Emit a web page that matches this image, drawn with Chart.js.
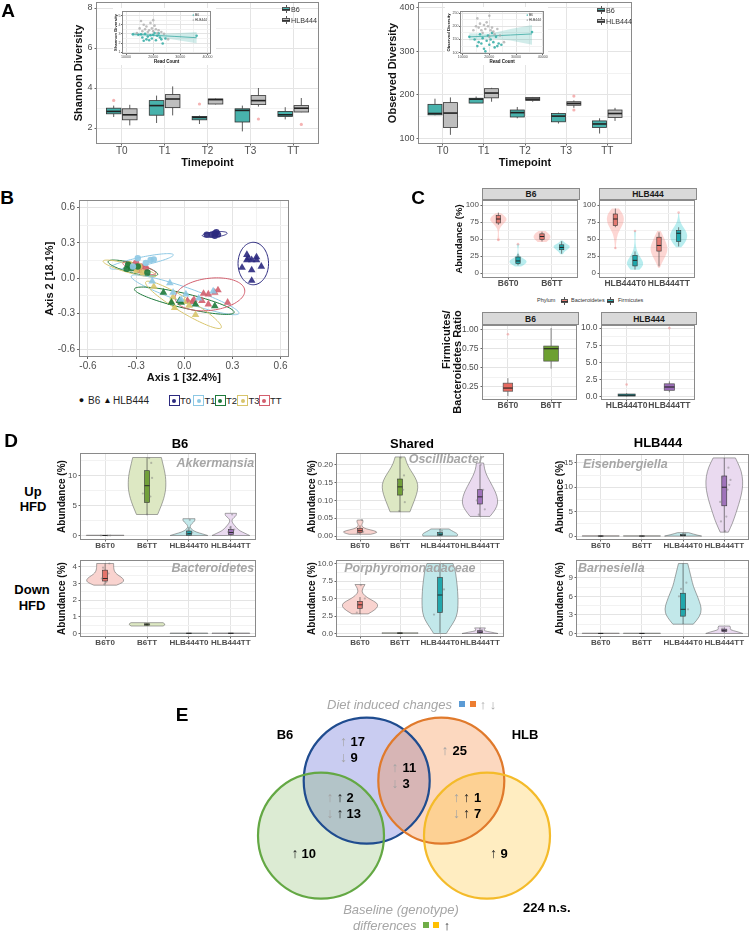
<!DOCTYPE html>
<html>
<head>
<meta charset="utf-8">
<title>Microbiome figure</title>
<script src="https://cdn.jsdelivr.net/npm/chart.js@4.4.1/dist/chart.umd.min.js"></script>
<style>
  html,body{margin:0;padding:0;background:#fff}
  body{position:relative;width:753px;height:933px;overflow:hidden;font-family:"Liberation Sans",Arial,Helvetica,sans-serif}
  canvas{position:absolute}
  .t{position:absolute;white-space:nowrap;line-height:1}
  .box{position:absolute;box-sizing:border-box}
</style>
</head>
<body>
<script>
/* ---------- DATA : panel A (alpha diversity) ---------- */
const timepoints = ['T0','T1','T2','T3','TT'];
// five numbers per box: [lower whisker, Q1, median, Q3, upper whisker]
const shannonB6  = [[2.55,2.71,2.83,2.99,3.12],[2.25,2.64,3.12,3.37,3.62],[2.20,2.41,2.53,2.58,2.62],[1.83,2.30,2.88,2.96,3.12],[2.43,2.58,2.66,2.83,3.04]];
const shannonHLB = [[2.13,2.41,2.66,2.96,3.16],[2.63,3.02,3.45,3.67,4.08],[3.18,3.20,3.42,3.45,3.47],[3.07,3.17,3.37,3.62,4.00],[2.79,2.80,2.99,3.12,3.50]];
const shannonOutB6  = [[1,3.38],[3,3.20]];
const shannonOutHLB = [[4,2.45],[5,2.18]];
const observedB6  = [[153,154,157,178,191],[181,181,190,192,196],[146,149,159,165,172],[134,138,151,157,159],[111,125,133,140,146]];
const observedHLB = [[108,125,158,182,194],[184,193,204,214,216],[184,187,190,194,195],[170,176,180,184,187],[140,148,157,165,170]];
const observedOutHLB = [[4,197],[4,165]];

// insets: diversity vs read count
const readB6  = [12500,14500,15500,16000,16500,17000,17500,18000,18500,19000,19500,20000,20500,21000,21500,22000,22500,23000,23500,24500,36000];
const shanB6  = [2.95,2.90,2.95,2.60,2.25,3.00,2.40,2.70,2.30,2.85,2.50,2.90,3.10,2.30,2.80,3.05,2.60,2.40,1.95,2.50,2.80];
const obsB6   = [160,150,125,140,170,135,155,115,105,145,165,130,150,175,140,120,160,125,135,130,178];
const readHLB = [14000,15000,15500,16000,16500,17000,17500,18000,18500,19000,19500,20000,20000,20500,21000,21500,22000,23000,24000,25500];
const shanHLB = [3.10,3.60,4.40,3.30,4.00,3.50,3.80,3.20,3.40,4.20,3.60,3.30,4.50,3.90,3.50,3.10,3.40,3.20,3.00,2.40];
const obsHLB  = [185,200,230,195,210,185,175,205,190,215,200,240,160,185,195,180,170,190,165,140];
const fitRead = [12500,20000,28000,36000];
const shanFit = [2.97,2.85,2.72,2.58], shanLo = [2.75,2.72,2.35,1.98], shanHi = [3.18,2.98,3.08,3.20];
const obsFit  = [160,163,167,171],     obsLo  = [146,154,146,130],     obsHi  = [174,172,190,205];

/* ---------- DATA : panel B (PCoA) ---------- */
const pcoaT0B6 = [[0.14,0.37],[0.17,0.37],[0.19,0.38],[0.20,0.39],[0.21,0.37],[0.19,0.36]];
const pcoaT1B6 = [[-0.29,0.17],[-0.21,0.155],[-0.19,0.16],[-0.24,0.13],[-0.32,0.10]];
const pcoaT2B6 = [[-0.35,0.115],[-0.33,0.085],[-0.36,0.08],[-0.29,0.10],[-0.23,0.05]];
const pcoaT3B6 = [[-0.33,0.10],[-0.30,0.07],[-0.26,0.05],[-0.34,0.12],[-0.28,0.10]];
const pcoaTTB6 = [[-0.30,0.13],[-0.27,0.10],[-0.24,0.085],[-0.31,0.10],[-0.28,0.07]];
const pcoaT0HLB = [[0.39,0.20],[0.40,0.17],[0.42,0.155],[0.45,0.18],[0.45,0.155],[0.48,0.10],[0.36,0.09],[0.42,0.07],[0.42,-0.02],[0.39,0.155]];
const pcoaT1HLB = [[-0.20,-0.025],[-0.09,-0.04],[-0.07,-0.12],[0.01,-0.135],[0.09,-0.17],[0.18,-0.11],[-0.02,-0.18]];
const pcoaT2HLB = [[-0.13,-0.12],[-0.03,-0.19],[-0.02,-0.205],[0.07,-0.22],[0.19,-0.235],[-0.08,-0.205]];
const pcoaT3HLB = [[-0.19,-0.07],[-0.07,-0.16],[-0.06,-0.25],[0.03,-0.23],[0.07,-0.31],[0.00,-0.20],[-0.08,-0.20]];
const pcoaTTHLB = [[0.02,-0.19],[0.06,-0.18],[0.05,-0.20],[0.12,-0.13],[0.15,-0.135],[0.19,-0.12],[0.21,-0.10],[0.27,-0.205],[0.15,-0.22],[0.11,-0.19]];
// confidence ellipses: [centre x, centre y, semi-axis a, semi-axis b, angle deg]
const ellB6  = [[0.19,0.372,0.078,0.022,8],[-0.266,0.143,0.206,0.035,16],[-0.32,0.087,0.164,0.04,-20],[-0.34,0.083,0.177,0.035,-21],[-0.28,0.085,0.112,0.03,-24]];
const ellHLB = [[0.43,0.125,0.095,0.18,0],[0.005,-0.14,0.371,0.06,-25.5],[0.0,-0.19,0.326,0.06,-18],[-0.005,-0.225,0.305,0.055,-40],[0.16,-0.136,0.22,0.135,12]];

/* ---------- DATA : panel C (phyla) ---------- */
const phyla = ['Bacteroidetes','Firmicutes'];
const facetB6 = ['B6T0','B6TT'];
const facetHLB = ['HLB444T0','HLB444TT'];
// [group][phylum]
const phB6Lo = [[48,10],[46,28]];
const phB6Hi = [[88,43],[62,48]];
const phB6Dens = [[[0.15,0.08,0.05,0.08,0.25,0.6,1,0.85,0.3],[0.35,0.8,1,0.95,0.55,0.25,0.1,0.05,0.04,0.05,0.12,0.15]],
                  [[0.5,0.9,1,0.8,0.4],[0.15,0.35,0.85,1,0.4,0.1]]];
const phB6Box = [[[71,73.8,79.6,84.5,89],[11.6,14.1,18,23.8,28.6]],[[46.6,49.5,53.9,57.8,61],[28.6,34.5,37.9,41.7,47]]];
const phB6Out = [[0,0,49],[0,1,42.7]];
const phHLBLo = [[36,5],[8,38]];
const phHLBHi = [[95,62],[62,88]];
const phHLBDens = [[[0.05,0.08,0.15,0.3,0.6,0.9,1,0.85,0.4],[0.5,1,0.85,0.45,0.2,0.1,0.05,0.08,0.1]],
                   [[0.1,0.3,0.6,0.85,1,0.9,0.7,0.45,0.2],[0.3,0.7,0.95,1,0.8,0.45,0.2,0.08,0.05]]];
const phHLBBox = [[[67.5,69.9,79.6,86.9,95],[5.3,10.7,18.9,26.2,32]],[[10,32.5,40.8,52.9,60],[39.3,46.6,58.7,62.6,67.5]]];
const phHLBOut = [[0,0,37],[0,1,62],[1,1,89]];
// Firmicutes / Bacteroidetes ratio
const ratioB6Box  = [[0.13,0.195,0.236,0.30,0.365],[0.49,0.588,0.75,0.785,1.02]];
const ratioB6Out  = [[1,0.94]];
const ratioHLBBox = [[0.02,0.12,0.25,0.42,0.55],[0.67,0.96,1.44,1.90,2.26]];
const ratioHLBOut = [[1,1.8],[2,10.0]];

/* ---------- DATA : panel D (taxa) ---------- */
const dGroups = ['B6T0','B6TT','HLB444T0','HLB444TT'];
const akkLo = [0,3.5,0,0], akkHi = [0.05,13,2.8,3.7];
const akkDens = [[1,1],[0.56,0.7,0.83,0.93,0.99,1,0.98,0.92,0.84,0.76],[1,0.7,0.4,0.22,0.12,0.06,0.08,0.15,0.25,0.32,0.32],[1,0.75,0.5,0.35,0.25,0.15,0.07,0.05,0.15,0.3,0.3]];
const akkBox = [[0,0,0,0,0],[3.5,5.5,8.3,10.8,13],[0,0.05,0.3,0.75,1.4],[0,0.15,0.5,1.0,1.6]];
const akkPts = [[1,-0.1,0],[1,0.06,0],[1,0.12,0],[2,0.1,12.1],[2,-0.05,10.5],[2,0.12,9.6],[2,-0.1,7.0],[2,0.08,6.5],[2,-0.02,5.7],[2,0,3.5],[2,0.05,12.9],[3,0.05,0.1],[3,-0.05,0.3],[3,0.08,0.5],[3,-0.03,0.8],[3,0.02,2.6],[4,0.05,0.2],[4,-0.06,0.6],[4,0.08,1.0],[4,-0.02,1.3],[4,0.03,3.5]];
const bacLo = [2.9,0.45,0,0], bacHi = [4.2,0.65,0.03,0.03];
const bacDens = [[0.6,0.95,1,0.85,0.62,0.5,0.46,0.45,0.45],[0.85,1,0.85],[1,1],[1,1]];
const bacBox = [[2.95,3.15,3.3,3.8,4.2],[0.45,0.5,0.55,0.58,0.62],[0,0.01,0.01,0.02,0.03],[0,0.01,0.01,0.02,0.03]];
const bacPts = [[1,0.1,4.2],[1,-0.05,3.95],[1,0.08,3.6],[1,-0.08,3.3],[1,0.03,3.1],[1,-0.02,2.95],[2,0.05,0.55],[2,-0.05,0.6]];
const oscLo = [0.005,0.068,0,0.055], oscHi = [0.045,0.222,0.02,0.205];
const oscDens = [[0.6,1,0.8,0.35,0.15,0.1,0.12,0.18,0.15],[0.55,0.7,0.85,0.97,1,0.85,0.6,0.38,0.27],[0.95,1,0.85,0.65,0.5],[0.55,0.85,1,0.95,0.8,0.6,0.4,0.25,0.2]];
const oscBox = [[0.005,0.01,0.015,0.022,0.03],[0.068,0.115,0.138,0.16,0.222],[0,0.002,0.005,0.01,0.02],[0.055,0.09,0.11,0.13,0.2]];
const oscPts = [[1,0.05,0.045],[1,-0.03,0.02],[1,0.08,0.012],[1,-0.06,0.008],[2,0.1,0.17],[2,-0.05,0.15],[2,0.08,0.13],[2,0.12,0.095],[2,-0.02,0.07],[2,0.02,0.22],[3,0.05,0.015],[3,-0.05,0.005],[3,0.02,0.01],[4,0.08,0.13],[4,-0.08,0.1],[4,0.12,0.075],[4,-0.03,0.06],[4,0.02,0.2]];
const porLo = [2.8,0,0,0], porHi = [7.0,0.12,10,0.8];
const porDens = [[0.45,0.8,1,0.95,0.55,0.25,0.1,0.15,0.28],[1,1],[0.35,0.6,0.85,0.97,1,1,0.98,0.95,0.9,0.85,0.72],[1,0.6,0.2,0.25,0.3]];
const porBox = [[2.8,3.6,4.1,4.6,5.2],[0,0.02,0.05,0.08,0.12],[0.1,3,5.5,8,10],[0.05,0.1,0.2,0.4,0.8]];
const porPts = [[1,0.12,5.0],[1,-0.05,4.3],[1,0.05,3.8],[1,-0.08,3.0],[1,0.02,6.9],[3,0.1,6.3],[3,-0.15,2.7],[3,0.05,3.1],[3,0.08,9.8],[3,-0.05,8.0],[4,0.05,0.5],[4,-0.05,0.2]];
const eisLo = [0,0,0,0.8], eisHi = [0.05,0.05,0.7,16];
const eisDens = [[1,1],[1,1],[1,0.6,0.3],[0.22,0.45,0.62,0.78,0.92,1,0.98,0.85,0.6]];
const eisBox = [[0,0,0,0,0],[0,0,0,0,0],[0,0.05,0.15,0.3,0.7],[0.8,6.2,10,12.3,16]];
const eisPts = [[1,-0.05,0],[1,0.05,0],[2,-0.03,0],[2,0.04,0],[3,0,0.3],[3,0.05,0.5],[4,0.1,14],[4,-0.05,12],[4,0.15,11.5],[4,0.08,9.5],[4,-0.1,7],[4,0.05,4],[4,-0.08,3],[4,0.02,1],[4,0.12,10.5]];
const barLo = [0,0,1.5,0], barHi = [0.05,0.05,11.3,1.2];
const barDens = [[1,1],[1,1],[0.55,0.9,1,0.88,0.72,0.55,0.45,0.35,0.25],[1,0.7,0.3,0.35,0.3]];
const barBox = [[0,0,0,0,0],[0,0,0,0,0],[1.5,2.8,3.9,6.5,11.3],[0.1,0.3,0.5,0.7,1.0]];
const barPts = [[3,0.08,8.2],[3,-0.05,7.2],[3,0.12,3.9],[3,0.05,3.0],[3,-0.1,6.0],[4,0.05,0.5],[4,-0.05,0.8]];

/* ---------- DATA : panel E (Venn counts) ---------- */
const vennDietB6 = [17, 9];      // up, down
const vennDietShared = [11, 3];
const vennDietHLB = [25];
const vennBothB6 = [2, 13];
const vennBothHLB = [1, 7];
const vennBaseB6 = [10];
const vennBaseHLB = [9];
const vennNS = 224;

/* ---------- HELPERS ---------- */
const specs = {};
const near = (a, b) => Math.abs(a - b) < 1e-9;
const FONT = '"Liberation Sans", Arial, Helvetica, sans-serif';
Chart.defaults.font.family = FONT;
Chart.defaults.color = '#4D4D4D';

function txt(s, x, y, size, o = {}) {
  const d = document.createElement('div');
  d.className = 't';
  if (o.html) d.innerHTML = s; else d.textContent = s;
  Object.assign(d.style, {
    left: x + 'px', top: y + 'px', fontSize: size + 'px',
    fontWeight: o.bold ? 'bold' : 'normal', fontStyle: o.italic ? 'italic' : 'normal',
    color: o.color || '#000', textAlign: o.ta || 'left',
    transform: `translate(${o.ax ?? -50}%, -50%)` + (o.rot ? ` rotate(${o.rot}deg)` : '')
  });
  document.body.appendChild(d);
  return d;
}
function div(x, y, w, h, css) {
  const d = document.createElement('div');
  d.className = 'box';
  d.style.cssText += `left:${x}px;top:${y}px;width:${w}px;height:${h}px;` + (css || '');
  document.body.appendChild(d);
  return d;
}
function boxKey(x, y, w, h, fill) {
  const d = div(x, y, w, h);
  d.innerHTML = `<div class="box" style="left:${w/2-0.5}px;top:0;width:1px;height:${h}px;background:#555"></div>` +
    `<div class="box" style="left:0;top:${h*0.2}px;width:${w}px;height:${h*0.6}px;background:${fill};border:0.8px solid #555"></div>` +
    `<div class="box" style="left:0;top:${h/2-0.5}px;width:${w}px;height:1px;background:#333"></div>`;
}
function strip(x, y, w, h, label) {
  const d = div(x, y, w, h, 'background:#D9D9D9;border:1px solid #8A8A8A;font-size:8.5px;font-weight:bold;color:#1A1A1A;display:flex;align-items:center;justify-content:center;');
  d.textContent = label;
}

function ax(min, max, major, labels, minor, o = {}) {
  const isMajor = v => major.some(m => near(m, v));
  return {
    type: 'linear', min, max,
    afterBuildTicks: s => { s.ticks = major.concat(minor).sort((a, b) => a - b).map(v => ({ value: v })); },
    ticks: {
      autoSkip: false, maxRotation: 0, minRotation: 0, padding: o.pad ?? 2,
      color: o.color || '#4D4D4D',
      font: { size: o.size || 10, weight: o.bold ? 'bold' : 'normal', lineHeight: 1 },
      callback: v => { const i = major.findIndex(m => near(m, v)); return i < 0 ? '' : labels[i]; }
    },
    grid: {
      lineWidth: 1,
      color: c => (c.tick && isMajor(c.tick.value)) ? '#E4E4E4' : '#F2F2F2',
      tickColor: c => (c.tick && isMajor(c.tick.value)) ? '#666' : 'rgba(0,0,0,0)',
      tickLength: o.tl ?? 2
    },
    border: { display: false },
    title: o.title ? { display: true, text: o.title, color: '#111', padding: { top: o.tpad || 0, bottom: 0 },
                       font: { size: o.tsize || 11, weight: 'bold', lineHeight: 1.2 } } : { display: false }
  };
}
const pts = (list, color, r, style) => ({
  data: list.map(([x, y]) => ({ x, y })), backgroundColor: color, borderWidth: 0,
  pointRadius: r, pointStyle: style || 'circle'
});

function plot(id, f, yW, xH, xA, yA, datasets, spec) {
  const pT = 3, pR = 2;
  const w = f.r - f.l + yW + pR, h = f.b - f.t + xH + pT;
  const cv = document.createElement('canvas');
  cv.id = id; cv.width = w; cv.height = h;
  Object.assign(cv.style, { left: (f.l - yW) + 'px', top: (f.t - pT) + 'px', width: w + 'px', height: h + 'px' });
  document.body.appendChild(cv);
  specs[id] = spec || {};
  const zeroPad = s => { s.paddingLeft = s.paddingRight = s.paddingTop = s.paddingBottom = 0; };
  xA.afterFit = s => { s.height = xH; zeroPad(s); };
  yA.afterFit = s => { s.width = yW; zeroPad(s); };
  return new Chart(cv, {
    type: 'scatter',
    data: { datasets: datasets || [] },
    options: {
      responsive: false, animation: false, events: [],
      layout: { padding: { top: pT, right: pR, left: 0, bottom: 0 } },
      plugins: { legend: { display: false }, tooltip: { enabled: false } },
      scales: { x: xA, y: yA }
    }
  });
}

/* smooth outline through a list of pixel points */
function smooth(ctx, p, first) {
  first ? ctx.moveTo(p[0][0], p[0][1]) : ctx.lineTo(p[0][0], p[0][1]);
  for (let i = 1; i < p.length - 1; i++) {
    ctx.quadraticCurveTo(p[i][0], p[i][1], (p[i][0] + p[i+1][0]) / 2, (p[i][1] + p[i+1][1]) / 2);
  }
  ctx.lineTo(p[p.length-1][0], p[p.length-1][1]);
}

/* ---------- PLUGIN : ggplot-like geoms drawn through the chart scales ---------- */
Chart.register({
  id: 'ggDraw',
  beforeDatasetsDraw(chart) {
    const s = specs[chart.canvas.id]; if (!s) return;
    const { ctx, chartArea: a } = chart;
    const X = v => chart.scales.x.getPixelForValue(v), Y = v => chart.scales.y.getPixelForValue(v);
    ctx.save();
    if (!s.noClip) { ctx.beginPath(); ctx.rect(a.left, a.top, a.right - a.left, a.bottom - a.top); ctx.clip(); }
    (s.ribbons || []).forEach(r => {
      ctx.beginPath();
      r.xs.forEach((x, i) => i ? ctx.lineTo(X(x), Y(r.hi[i])) : ctx.moveTo(X(x), Y(r.hi[i])));
      for (let i = r.xs.length - 1; i >= 0; i--) ctx.lineTo(X(r.xs[i]), Y(r.lo[i]));
      ctx.closePath(); ctx.fillStyle = r.fill; ctx.fill();
    });
    (s.ellipses || []).forEach(e => {
      const [cx, cy, ra, rb, ang] = e.p, t = ang * Math.PI / 180;
      ctx.beginPath();
      for (let k = 0; k <= 90; k++) {
        const f = k / 90 * 2 * Math.PI;
        const x = cx + ra * Math.cos(f) * Math.cos(t) - rb * Math.sin(f) * Math.sin(t);
        const y = cy + ra * Math.cos(f) * Math.sin(t) + rb * Math.sin(f) * Math.cos(t);
        k ? ctx.lineTo(X(x), Y(y)) : ctx.moveTo(X(x), Y(y));
      }
      ctx.closePath(); ctx.strokeStyle = e.color; ctx.lineWidth = 1; ctx.stroke();
    });
    (s.violins || []).forEach(v => {
      const n = v.w.length, L = [], R = [];
      for (let i = 0; i < n; i++) {
        const y = v.lo + (v.hi - v.lo) * i / (n - 1);
        L.push([X(v.x - v.w[i] * v.hw), Y(y)]);
        R.push([X(v.x + v.w[i] * v.hw), Y(y)]);
      }
      ctx.beginPath(); smooth(ctx, L, true); smooth(ctx, R.reverse(), false); ctx.closePath();
      ctx.fillStyle = v.fill; ctx.fill();
      if (v.stroke) { ctx.strokeStyle = v.stroke; ctx.lineWidth = 0.6; ctx.stroke(); }
    });
    (s.boxes || []).forEach(b => {
      const [w0, q1, md, q3, w1] = b.q, x = X(b.x);
      ctx.strokeStyle = b.stroke || '#333'; ctx.lineWidth = b.lw || 0.8;
      ctx.beginPath(); ctx.moveTo(x, Y(w1)); ctx.lineTo(x, Y(q3)); ctx.moveTo(x, Y(q1)); ctx.lineTo(x, Y(w0)); ctx.stroke();
      const l = X(b.x - b.hw), r = X(b.x + b.hw), t = Y(q3), bt = Y(q1);
      ctx.fillStyle = b.fill; ctx.fillRect(l, t, r - l, bt - t); ctx.strokeRect(l, t, r - l, bt - t);
      ctx.lineWidth = b.mlw || 1.6; ctx.strokeStyle = '#222';
      ctx.beginPath(); ctx.moveTo(l, Y(md)); ctx.lineTo(r, Y(md)); ctx.stroke();
    });
    if (s.circles) {
      s.circles.forEach(c => { ctx.beginPath(); ctx.arc(X(c.x), Y(c.y), Math.abs(X(c.x + c.r) - X(c.x)), 0, 2 * Math.PI); ctx.fillStyle = c.fill; ctx.fill(); });
      s.circles.forEach(c => { ctx.beginPath(); ctx.arc(X(c.x), Y(c.y), Math.abs(X(c.x + c.r) - X(c.x)), 0, 2 * Math.PI); ctx.strokeStyle = c.stroke; ctx.lineWidth = 2.2; ctx.stroke(); });
    }
    ctx.restore();
  },
  afterDatasetsDraw(chart) {
    const s = specs[chart.canvas.id]; if (!s) return;
    const { ctx, chartArea: a } = chart;
    const X = v => chart.scales.x.getPixelForValue(v), Y = v => chart.scales.y.getPixelForValue(v);
    ctx.save();
    (s.texts || []).forEach(t => {
      const px = t.fx != null ? a.left + t.fx * (a.right - a.left) : X(t.x);
      const py = t.fy != null ? a.top + t.fy * (a.bottom - a.top) : Y(t.y);
      ctx.font = t.font; ctx.fillStyle = t.color || '#000';
      ctx.textAlign = t.align || 'left'; ctx.textBaseline = 'middle';
      ctx.fillText(t.t, px, py);
    });
    if (!s.noFrame) {
      ctx.strokeStyle = '#8A8A8A'; ctx.lineWidth = 1;
      ctx.strokeRect(Math.round(a.left) + 0.5, Math.round(a.top) + 0.5, Math.round(a.right - a.left) - 1, Math.round(a.bottom - a.top) - 1);
    }
    ctx.restore();
  }
});

/* ---------- PANEL A ---------- */
const TEAL = '#48B2AC', GREY = '#BEBEBE', OUT = 'rgba(238,128,128,0.6)';
const tpX = timepoints.map((_, i) => i + 1);
const DODGE = 0.1875;
const boxesFrom = (arr, off, fill, hw) => arr.map((q, i) => ({ x: i + 1 + off, q, hw, fill }));
const shift = (arr, off) => arr.map(([g, v]) => [g + off, v]);

plot('aShannon', { l: 96, t: 1, r: 321, b: 144 }, 25, 26,
  ax(0.4, 5.6, tpX, timepoints, [], { size: 10, title: 'Timepoint', tsize: 11, tl: 1.5, pad: 0.5 }),
  ax(1.2, 8.3, [2,4,6,8], ['2','4','6','8'], [3,5,7], { size: 9, title: 'Shannon Diversity', tsize: 11, tpad: 1, tl: 1.5 }),
  [pts(shift(shannonOutB6, -DODGE), OUT, 1.6), pts(shift(shannonOutHLB, DODGE), OUT, 1.6)],
  { boxes: boxesFrom(shannonB6, -DODGE, TEAL, 0.17).concat(boxesFrom(shannonHLB, DODGE, GREY, 0.17)) });

plot('aObserved', { l: 418, t: 1, r: 634, b: 144 }, 33, 26,
  ax(0.4, 5.6, tpX, timepoints, [], { size: 10, title: 'Timepoint', tsize: 11, tl: 1.5, pad: 0.5 }),
  ax(87, 413, [100,200,300,400], ['100','200','300','400'], [150,250,350], { size: 9, title: 'Observed Diversity', tsize: 11, tpad: 1, tl: 1.5 }),
  [pts(shift(observedOutHLB, DODGE), OUT, 1.6)],
  { boxes: boxesFrom(observedB6, -DODGE, TEAL, 0.17).concat(boxesFrom(observedHLB, DODGE, GREY, 0.17)) });

boxKey(282, 5, 8, 8, TEAL);  txt('B6', 291, 9.5, 7.2, { ax: 0, color: '#333' });
boxKey(282, 16, 8, 8, GREY); txt('HLB444', 291, 20.5, 7.2, { ax: 0, color: '#333' });
boxKey(597, 6, 8, 8, TEAL);  txt('B6', 606, 10.5, 7.2, { ax: 0, color: '#333' });
boxKey(597, 17, 8, 8, GREY); txt('HLB444', 606, 21.5, 7.2, { ax: 0, color: '#333' });

// insets
const zip = (xs, ys) => xs.map((x, i) => [x, ys[i]]);
const insetLegend = [
  { t: '●', fx: 0.8, fy: 0.1, font: `3.5px ${FONT}`, color: TEAL, align: 'center' },
  { t: 'B6', fx: 0.82, fy: 0.1, font: `3.3px ${FONT}`, color: '#333' },
  { t: '●', fx: 0.8, fy: 0.2, font: `3.5px ${FONT}`, color: '#AAA', align: 'center' },
  { t: 'HLB444', fx: 0.82, fy: 0.2, font: `3.3px ${FONT}`, color: '#333' }
];
div(113, 8, 103, 57, 'background:#fff');
plot('aShannonInset', { l: 122, t: 10, r: 213, b: 54 }, 9, 10,
  ax(8500, 41300, [10000,20000,30000,40000], ['10000','20000','30000','40000'], [15000,25000,35000], { size: 3.6, title: 'Read Count', tsize: 4.5, tl: 1, pad: 0.5 }),
  ax(0.8, 5.5, [1,2,3,4,5], ['1','2','3','4','5'], [1.5,2.5,3.5,4.5], { size: 3.6, title: 'Shannon Diversity', tsize: 4.2, tl: 1, pad: 0.5 }),
  [pts(zip(readHLB, shanHLB), 'rgba(170,170,170,0.75)', 1.3),
   pts(zip(readB6, shanB6), 'rgba(60,175,168,0.9)', 1.3),
   Object.assign(pts(zip(fitRead, shanFit), TEAL, 0), { showLine: true, borderColor: '#3AA9A3', borderWidth: 0.8 })],
  { ribbons: [{ xs: fitRead, lo: shanLo, hi: shanHi, fill: 'rgba(72,178,172,0.25)' }], texts: insetLegend });

div(445, 7, 103, 58, 'background:#fff');
plot('aObservedInset', { l: 460, t: 10, r: 546, b: 54 }, 14, 10,
  ax(9000, 40500, [10000,20000,30000,40000], ['10000','20000','30000','40000'], [15000,25000,35000], { size: 3.6, title: 'Read Count', tsize: 4.5, tl: 1, pad: 0.5 }),
  ax(95, 258, [100,150,200,250], ['100','150','200','250'], [125,175,225], { size: 3.6, title: 'Observed Diversity', tsize: 4.2, tl: 1, pad: 0.5 }),
  [pts(zip(readHLB, obsHLB), 'rgba(170,170,170,0.75)', 1.3),
   pts(zip(readB6, obsB6), 'rgba(60,175,168,0.9)', 1.3),
   Object.assign(pts(zip(fitRead, obsFit), TEAL, 0), { showLine: true, borderColor: '#3AA9A3', borderWidth: 0.8 })],
  { ribbons: [{ xs: fitRead, lo: obsLo, hi: obsHi, fill: 'rgba(72,178,172,0.25)' }], texts: insetLegend });

/* ---------- PANEL B ---------- */
const tColors = ['#2C2A7F','#8DC8E4','#1E7A3B','#D8C56C','#D35F6E'];
const pcoaB6 = [pcoaT0B6, pcoaT1B6, pcoaT2B6, pcoaT3B6, pcoaTTB6];
const pcoaHLB = [pcoaT0HLB, pcoaT1HLB, pcoaT2HLB, pcoaT3HLB, pcoaTTHLB];
const pcTicks = [-0.6,-0.3,0,0.3,0.6], pcLabels = ['-0.6','-0.3','0.0','0.3','0.6'], pcMinor = [-0.45,-0.15,0.15,0.45];
plot('bPcoa', { l: 79, t: 199, r: 291, b: 357 }, 36, 28,
  ax(-0.656, 0.65, pcTicks, pcLabels, pcMinor, { size: 10, title: 'Axis 1 [32.4%]', tsize: 11 }),
  ax(-0.667, 0.66, pcTicks, pcLabels, pcMinor, { size: 10, title: 'Axis 2 [18.1%]', tsize: 11 }),
  pcoaHLB.map((p, i) => pts(p, tColors[i] + 'E6', 4.4, 'triangle')).concat(pcoaB6.map((p, i) => pts(p, tColors[i] + 'E6', 3.2))),
  { ellipses: ellB6.map((p, i) => ({ p, color: tColors[i] })).concat(ellHLB.map((p, i) => ({ p, color: tColors[i] }))) });

txt('●', 81.5, 400, 9, { color: '#111' });
txt('B6', 88, 400.5, 10, { ax: 0, color: '#222' });
txt('▲', 107.5, 399.5, 8.5, { color: '#111' });
txt('HLB444', 113, 400.5, 10, { ax: 0, color: '#222' });
const tKeyX = [168.5, 193, 214.5, 237, 258.5];
timepoints.forEach((tp, i) => {
  const k = div(tKeyX[i], 395, 11, 11, `background:#fff;border:1px solid ${tColors[i]};`);
  k.innerHTML = `<div class="box" style="left:2.5px;top:2.5px;width:4px;height:4px;border-radius:50%;background:${tColors[i]}"></div>`;
  txt(tp, tKeyX[i] + 11.5, 400.5, 9.5, { ax: 0, color: '#222' });
});

/* ---------- PANEL C ---------- */
const phViolin = ['rgba(248,118,109,0.3)', 'rgba(0,191,196,0.28)'];
const phBoxFill = ['#E47A72', '#1DA8AD'];
function phylumFacet(id, f, yW, groups, lo, hi, dens, box, out, title) {
  const violins = [], boxes = [];
  const px = (gi, pi) => gi + 1 + (pi ? 0.225 : -0.225);
  groups.forEach((g, gi) => phyla.forEach((ph, pi) => {
    violins.push({ x: px(gi, pi), lo: lo[gi][pi], hi: hi[gi][pi], w: dens[gi][pi], hw: 0.2, fill: phViolin[pi] });
    boxes.push({ x: px(gi, pi), q: box[gi][pi], hw: 0.05, fill: phBoxFill[pi], lw: 0.6, mlw: 1 });
  }));
  plot(id, f, yW, 10,
    ax(0.4, 2.6, [1,2], groups, [], { size: 8.5, bold: true, tl: 1.5, pad: 0 }),
    ax(-7, 107.5, [0,25,50,75,100], ['0','25','50','75','100'], [12.5,37.5,62.5,87.5], { size: 8, title, tsize: 9.5, tl: 1.5, pad: 1.5 }),
    [pts(out.map(([gi, pi, v]) => [px(gi, pi), v]), 'rgba(240,140,140,0.5)', 1.3)],
    { violins, boxes });
}
phylumFacet('cTopB6', { l: 482, t: 199, r: 580, b: 278 }, 28, facetB6, phB6Lo, phB6Hi, phB6Dens, phB6Box, phB6Out, 'Abundance (%)');
phylumFacet('cTopHLB', { l: 599, t: 199, r: 697, b: 278 }, 16, facetHLB, phHLBLo, phHLBHi, phHLBDens, phHLBBox, phHLBOut, null);
strip(482, 188, 98, 12, 'B6');
strip(599, 188, 98, 12, 'HLB444');

txt('Phylum', 537, 301, 5.5, { ax: 0, color: '#333' });
boxKey(561, 297, 7, 8, '#E9847C');
txt('Bacteroidetes', 571, 301, 5.5, { ax: 0, color: '#333' });
boxKey(607, 297, 7, 8, '#2AB0B4');
txt('Firmicutes', 618, 301, 5.5, { ax: 0, color: '#333' });

const ratioFill = ['#E8695F', '#6DA031', '#20A8AD', '#9B6DB8'];
plot('cBotB6', { l: 482, t: 324, r: 579, b: 400 }, 24, 11,
  ax(0.4, 2.6, [1,2], facetB6, [], { size: 8.5, bold: true, tl: 1.5, pad: 0 }),
  ax(0.08, 1.06, [0.25,0.5,0.75,1.0], ['0.25','0.50','0.75','1.00'], [0.125,0.375,0.625,0.875], { size: 8.5, tl: 1.5 }),
  [pts(ratioB6Out, 'rgba(240,140,140,0.55)', 1.3)],
  { boxes: ratioB6Box.map((q, i) => ({ x: i + 1, q, hw: i ? 0.17 : 0.11, fill: ratioFill[i], lw: 0.7, mlw: 1.1, stroke: '#555' })) });
plot('cBotHLB', { l: 601, t: 324, r: 697, b: 400 }, 21, 11,
  ax(0.4, 2.6, [1,2], facetHLB, [], { size: 8.5, bold: true, tl: 1.5, pad: 0 }),
  ax(-0.45, 10.45, [0,2.5,5,7.5,10], ['0.0','2.5','5.0','7.5','10.0'], [1.25,3.75,6.25,8.75], { size: 8.5, tl: 1.5 }),
  [pts(ratioHLBOut, 'rgba(240,140,140,0.55)', 1.3)],
  { boxes: ratioHLBBox.map((q, i) => ({ x: i + 1, q, hw: i ? 0.12 : 0.2, fill: ratioFill[i + 2], lw: 0.7, mlw: 1.1, stroke: '#555' })) });
strip(482, 312, 97, 13, 'B6');
strip(601, 312, 96, 13, 'HLB444');
txt('Firmicutes/<br>Bacteroidetes Ratio', 452, 362, 11, { html: true, bold: true, rot: -90, ta: 'right', color: '#111' });

/* ---------- PANEL D ---------- */
const dViolin = ['#F9D3CF', '#DDE8C3', '#C2E8EA', '#EADAF0'];
const dBoxFill = ['#E4736B', '#72A03A', '#22A7AC', '#9F73BA'];
const TAXON_FONT = `italic bold 12.5px ${FONT}`;
function dPanel(id, f, yW, yA, lo, hi, dens, box, jit, label) {
  plot(id, f, yW, 12,
    ax(0.4, 4.6, [1,2,3,4], dGroups, [], { size: 8, bold: true, tl: 1.5, pad: 0 }),
    yA,
    [pts(jit.map(([g, dx, y]) => [g + dx, y]), 'rgba(120,120,120,0.45)', 1.1)],
    { violins: dGroups.map((g, i) => ({ x: i + 1, lo: lo[i], hi: hi[i], w: dens[i], hw: 0.45, fill: dViolin[i], stroke: '#6B6B6B' })),
      boxes: dGroups.map((g, i) => ({ x: i + 1, q: box[i], hw: 0.06, fill: dBoxFill[i], lw: 0.6, mlw: 0.9 })),
      texts: [Object.assign({ font: TAXON_FONT, color: '#A6A6A6' }, label)] });
}
const dY = (min, max, major, labels, minor) => ax(min, max, major, labels, minor, { size: 8, title: 'Abundance (%)', tsize: 10, tl: 1.5, pad: 1.5 });
dPanel('dAkk', { l: 80, t: 452, r: 258, b: 540 }, 24, dY(-0.75, 13.75, [0,5,10], ['0','5','10'], [2.5,7.5,12.5]),
  akkLo, akkHi, akkDens, akkBox, akkPts, { t: 'Akkermansia', fx: 0.99, fy: 0.125, align: 'right' });
dPanel('dBac', { l: 80, t: 559, r: 258, b: 637 }, 24, dY(-0.21, 4.41, [0,1,2,3,4], ['0','1','2','3','4'], [0.5,1.5,2.5,3.5]),
  bacLo, bacHi, bacDens, bacBox, bacPts, { t: 'Bacteroidetes', fx: 0.99, fy: 0.115, align: 'right' });
dPanel('dOsc', { l: 336, t: 452, r: 506, b: 540 }, 30, dY(-0.011, 0.233, [0,0.05,0.1,0.15,0.2], ['0.00','0.05','0.10','0.15','0.20'], [0.025,0.075,0.125,0.175]),
  oscLo, oscHi, oscDens, oscBox, oscPts, { t: 'Oscillibacter', fx: 0.656, fy: 0.075, align: 'center' });
dPanel('dPor', { l: 336, t: 559, r: 506, b: 637 }, 30, dY(-0.5, 10.5, [0,2.5,5,7.5,10], ['0.0','2.5','5.0','7.5','10.0'], [1.25,3.75,6.25,8.75]),
  porLo, porHi, porDens, porBox, porPts, { t: 'Porphyromonadaceae', fx: 0.44, fy: 0.115, align: 'center' });
dPanel('dEis', { l: 576, t: 453, r: 751, b: 540 }, 22, dY(-0.8, 16.8, [0,5,10,15], ['0','5','10','15'], [2.5,7.5,12.5]),
  eisLo, eisHi, eisDens, eisBox, eisPts, { t: 'Eisenbergiella', fx: 0.04, fy: 0.12 });
dPanel('dBar', { l: 576, t: 559, r: 751, b: 637 }, 22, dY(-0.57, 11.87, [0,3,6,9], ['0','3','6','9'], [1.5,4.5,7.5,10.5]),
  barLo, barHi, barDens, barBox, barPts, { t: 'Barnesiella', fx: 0.011, fy: 0.115 });

txt('B6', 180, 443, 13, { bold: true });
txt('Shared', 412, 443, 13, { bold: true });
txt('HLB444', 658, 442, 13, { bold: true });
txt('Up', 33, 491, 13, { bold: true });
txt('HFD', 33, 506, 13, { bold: true });
txt('Down', 32, 589, 13, { bold: true });
txt('HFD', 32, 605, 13, { bold: true });

/* ---------- PANEL E : Venn ---------- */
const vx = px => (px - 404) / 63, vy = py => (808 - py) / 63;
const vRows = [
  { diet: '↑', n: vennDietB6[0], ax: 343.5, nx: 350.5, y: 742 },
  { diet: '↓', n: vennDietB6[1], ax: 343.5, nx: 350.5, y: 758 },
  { diet: '↑', n: vennDietShared[0], ax: 395, nx: 402.5, y: 768 },
  { diet: '↓', n: vennDietShared[1], ax: 395, nx: 402.5, y: 784 },
  { diet: '↑', n: vennDietHLB[0], ax: 445, nx: 452.5, y: 751 },
  { diet: '↑', base: '↑', n: vennBothB6[0], ax: 330, bx: 340, nx: 346.5, y: 798 },
  { diet: '↓', base: '↑', n: vennBothB6[1], ax: 330, bx: 340, nx: 346.5, y: 814 },
  { diet: '↑', base: '↑', n: vennBothHLB[0], ax: 456.5, bx: 466.5, nx: 474, y: 798 },
  { diet: '↓', base: '↑', n: vennBothHLB[1], ax: 456.5, bx: 466.5, nx: 474, y: 814 },
  { base: '↑', n: vennBaseB6[0], bx: 295, nx: 301.5, y: 854 },
  { base: '↑', n: vennBaseHLB[0], bx: 493.5, nx: 500.5, y: 854 }
];
const vTexts = [];
const ARROW = `14px ${FONT}`, NUM = `bold 13px ${FONT}`;
vRows.forEach(r => {
  if (r.diet) vTexts.push({ t: r.diet, x: vx(r.ax), y: vy(r.y), font: ARROW, color: '#A3A3A3', align: 'center' });
  if (r.base) vTexts.push({ t: r.base, x: vx(r.bx), y: vy(r.y), font: ARROW, color: '#222', align: 'center' });
  vTexts.push({ t: String(r.n), x: vx(r.nx), y: vy(r.y + 0.5), font: NUM, color: '#000' });
});
vTexts.push({ t: 'B6', x: vx(285), y: vy(735), font: NUM, align: 'center' });
vTexts.push({ t: 'HLB', x: vx(525), y: vy(735), font: NUM, align: 'center' });
vTexts.push({ t: vennNS + ' n.s.', x: vx(523), y: vy(908), font: NUM });
specs.venn = {
  noFrame: true, noClip: true,
  circles: [
    { x: vx(366.7), y: vy(780.7), r: 1, fill: 'rgba(80,90,210,0.31)', stroke: '#1F4C8F' },
    { x: vx(441.3), y: vy(780.7), r: 1, fill: 'rgba(245,130,50,0.31)', stroke: '#E07A2C' },
    { x: vx(321), y: vy(835.7), r: 1, fill: 'rgba(110,170,70,0.24)', stroke: '#64A844' },
    { x: vx(487), y: vy(835.7), r: 1, fill: 'rgba(255,195,50,0.30)', stroke: '#F4BB2A' }
  ],
  texts: vTexts
};
(() => {
  const cv = document.createElement('canvas');
  cv.id = 'venn'; cv.width = 420; cv.height = 243;
  Object.assign(cv.style, { left: '180px', top: '690px', width: '420px', height: '243px' });
  document.body.appendChild(cv);
  new Chart(cv, {
    type: 'scatter', data: { datasets: [] },
    options: { responsive: false, animation: false, events: [], layout: { padding: 0 },
      plugins: { legend: { display: false }, tooltip: { enabled: false } },
      scales: { x: { type: 'linear', display: false, min: vx(180), max: vx(600) },
                y: { type: 'linear', display: false, min: vy(933), max: vy(690) } } }
  });
})();

const EGREY = '#A6A6A6';
txt('Diet induced changes', 327, 704, 13, { ax: 0, italic: true, color: EGREY });
div(459, 701, 6, 6, 'background:#5B9BD5');
div(470, 701, 6, 6, 'background:#ED7D31');
txt('↑', 483, 704, 13, { color: EGREY });
txt('↓', 493, 704, 13, { color: EGREY });
txt('Baseline (genotype)', 401, 909, 13, { italic: true, color: EGREY });
txt('differences', 353, 925, 13, { ax: 0, italic: true, color: EGREY });
div(423, 922, 6, 6, 'background:#70AD47');
div(433, 922, 6, 6, 'background:#FFC000');
txt('↑', 447, 925, 13, { color: '#222' });

/* ---------- PANEL LETTERS ---------- */
txt('A', 8, 10, 19, { bold: true });
txt('B', 7, 197, 19, { bold: true });
txt('C', 418, 196.5, 19, { bold: true });
txt('D', 11, 440, 19, { bold: true });
txt('E', 182, 714, 19, { bold: true });
</script>
</body>
</html>
